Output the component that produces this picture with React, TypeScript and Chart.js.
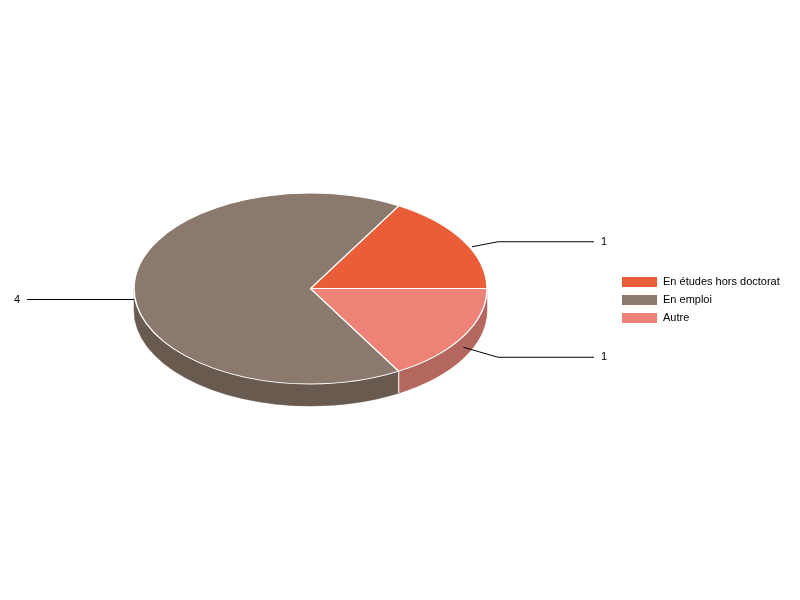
import { useEffect, useRef } from "react";
import { Chart, ArcElement, PieController, type ChartConfiguration, type Plugin } from "chart.js";

Chart.register(PieController, ArcElement);

const CATEGORIES = ["En études hors doctorat", "En emploi", "Autre"];
const COUNTS = [1, 4, 1];

const TOP_COLORS = ["#e95e39", "#8a796c", "#ee8277"];
const SIDE_COLORS = ["#b4492c", "#695a50", "#b4675f"];

const FONT = '11px "Liberation Sans", Arial, sans-serif';
// vertical squash of the top face, and thickness of the disc
const TILT = 95.5 / 176.5;
const DEPTH = 22;

// Fakes a 3D pie: draws the side wall, then squashes + flips the library's arcs.
const pie3d: Plugin<"pie"> = {
  id: "pie3d",
  beforeDatasetsDraw(chart) {
    const ctx = chart.ctx;
    const arcs = chart.getDatasetMeta(0).data as any[];
    if (!arcs.length) return;
    const { x: cx, y: cy, outerRadius: r } = arcs[0];
    const ry = r * TILT;

    ctx.save();
    arcs.forEach((arc, i) => {
      for (const k of [-2 * Math.PI, 0, 2 * Math.PI]) {
        const lo = Math.max(arc.startAngle, Math.PI + k);
        const hi = Math.min(arc.endAngle, 2 * Math.PI + k);
        if (hi <= lo) continue;
        const ta = 2 * Math.PI - (hi - k);
        const tb = 2 * Math.PI - (lo - k);
        ctx.beginPath();
        ctx.ellipse(cx, cy, r, ry, 0, ta, tb, false);
        ctx.ellipse(cx, cy + DEPTH, r, ry, 0, tb, ta, true);
        ctx.closePath();
        ctx.fillStyle = SIDE_COLORS[i];
        ctx.fill();
        ctx.strokeStyle = SIDE_COLORS[i];
        ctx.lineWidth = 0.5;
        ctx.stroke();
      }
    });
    // white seams where slices meet on the front wall
    ctx.strokeStyle = "#ffffff";
    ctx.lineWidth = 1;
    arcs.forEach((arc) => {
      const a = arc.startAngle;
      if (Math.sin(a) < -0.01) {
        const x = cx + r * Math.cos(a);
        const y = cy - ry * Math.sin(a);
        ctx.beginPath();
        ctx.moveTo(x, y);
        ctx.lineTo(x, y + DEPTH);
        ctx.stroke();
      }
    });
    ctx.restore();

    ctx.save();
    ctx.translate(cx, cy);
    ctx.scale(1, -TILT);
    ctx.translate(-cx, -cy);
  },
  afterDatasetsDraw(chart) {
    const ctx = chart.ctx;
    ctx.restore();

    const arcs = chart.getDatasetMeta(0).data as any[];
    if (!arcs.length) return;
    const { x: cx, y: cy, outerRadius: r } = arcs[0];
    const ry = r * TILT;

    ctx.save();
    ctx.font = FONT;
    ctx.textBaseline = "middle";
    ctx.strokeStyle = "#000000";
    ctx.fillStyle = "#000000";
    ctx.lineWidth = 1;
    arcs.forEach((arc, i) => {
      const m = (arc.startAngle + arc.endAngle) / 2;
      const c = Math.cos(m);
      const s = Math.sin(m);
      const side = c >= 0 ? 1 : -1;
      let ax = cx + r * c;
      let ay = cy - ry * s + DEPTH / 2;
      if (s > 0.01) {
        ax += 10 * c;
        ay -= 10 * s;
      }
      const ly = cy + DEPTH / 2 - (ry + 20) * s;
      const ex = cx + side * (r + 11);
      const endX = cx + side * (r + 107);
      ctx.beginPath();
      ctx.moveTo(ax, ay);
      ctx.lineTo(ex, ly);
      ctx.lineTo(endX, ly);
      ctx.stroke();
      ctx.textAlign = side > 0 ? "left" : "right";
      ctx.fillText(String(COUNTS[i]), endX + side * 7, ly);
    });

    // legend
    CATEGORIES.forEach((label, i) => {
      const y = 277 + i * 18;
      ctx.fillStyle = TOP_COLORS[i];
      ctx.fillRect(622, y, 35, 10);
      ctx.fillStyle = "#000000";
      ctx.textAlign = "left";
      ctx.fillText(label, 663, y + 5);
    });
    ctx.restore();
  },
};

const config: ChartConfiguration<"pie"> = {
  type: "pie",
  data: {
    labels: CATEGORIES,
    datasets: [
      {
        data: COUNTS,
        backgroundColor: TOP_COLORS,
        borderColor: "#ffffff",
        borderWidth: 1.5,
        hoverOffset: 0,
        radius: 176.5,
        clip: false as any,
      },
    ],
  },
  options: {
    responsive: false,
    animation: false,
    events: [],
    rotation: 90,
    layout: { padding: { left: 134, right: 313, top: 112, bottom: 135 } },
    plugins: { legend: { display: false }, tooltip: { enabled: false } },
  },
  plugins: [pie3d],
};

export default function App() {
  const canvasRef = useRef<HTMLCanvasElement | null>(null);

  useEffect(() => {
    const canvas = canvasRef.current;
    if (!canvas) return;
    const chart = new Chart(canvas, config);
    return () => chart.destroy();
  }, []);

  return (
    <div style={{ position: "absolute", left: 0, top: 0, width: 800, height: 600, background: "#ffffff" }}>
      <canvas
        ref={canvasRef}
        width={800}
        height={600}
        role="img"
        aria-label="Pie chart: En études hors doctorat 1, En emploi 4, Autre 1"
      />
    </div>
  );
}
